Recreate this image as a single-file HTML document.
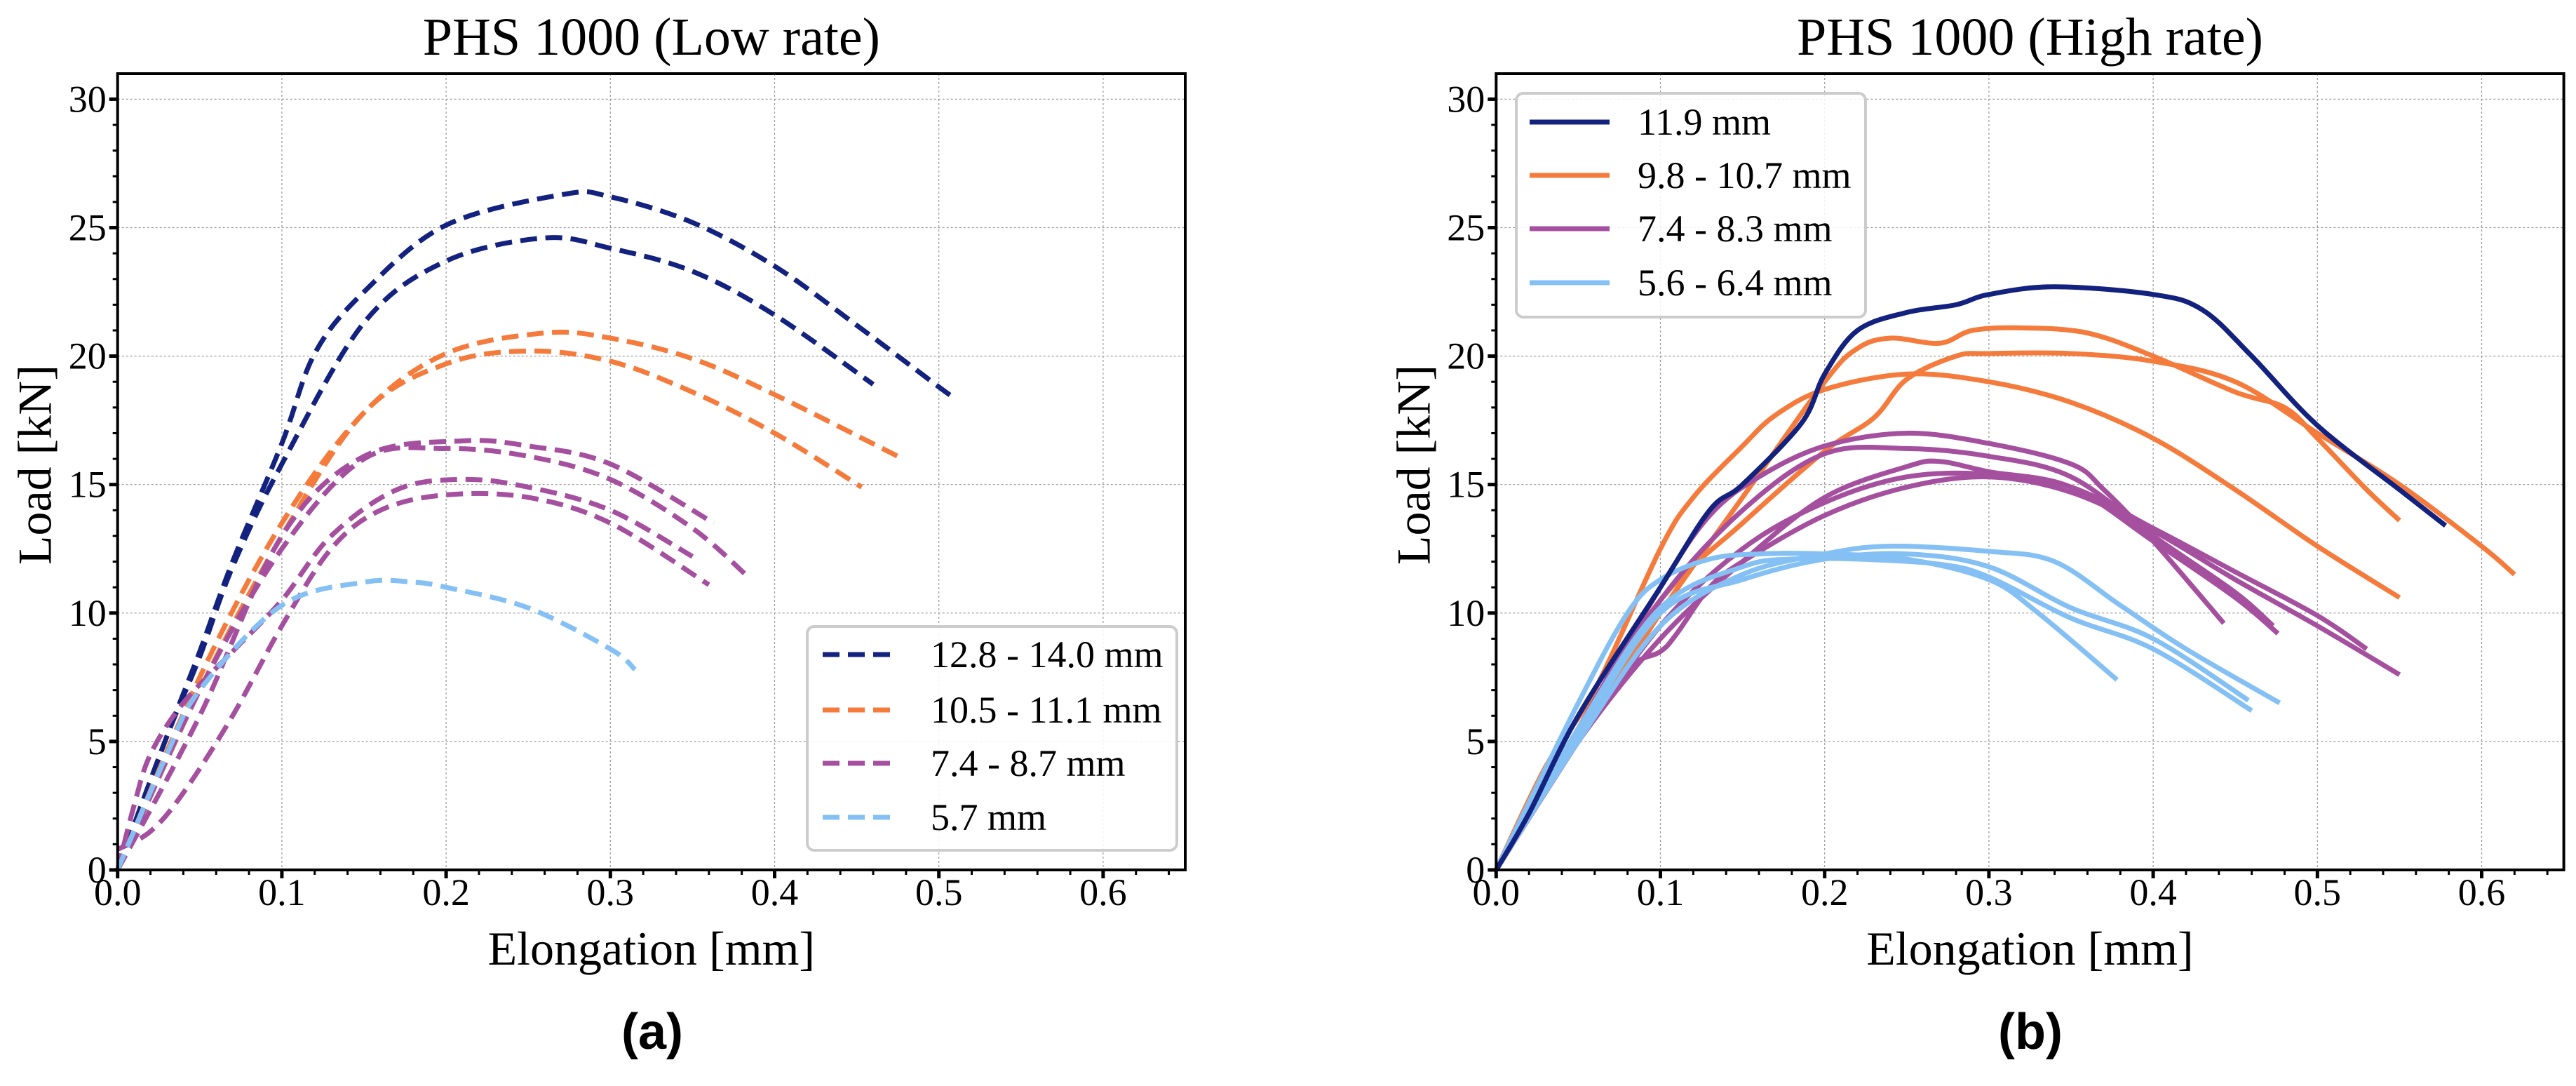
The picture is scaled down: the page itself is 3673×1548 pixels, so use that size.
<!DOCTYPE html>
<html><head><meta charset="utf-8"><style>
html,body{margin:0;padding:0;background:#fff}
svg{display:block}
text{font-family:"Liberation Serif","DejaVu Serif",serif;fill:#000}
</style></head><body>
<svg id="fig" width="3673" height="1548" viewBox="0 0 3673 1548" xmlns="http://www.w3.org/2000/svg">
<g id="pa"></g>
<g id="pb"></g>
<text x="930" y="1495" text-anchor="middle" font-size="72" font-weight="bold" style="font-family:'Liberation Sans',sans-serif">(a)</text>
<text x="2895" y="1495" text-anchor="middle" font-size="72" font-weight="bold" style="font-family:'Liberation Sans',sans-serif">(b)</text>
</svg>
<script>
const xTicks = [0,0.1,0.2,0.3,0.4,0.5,0.6];
const xTickLabels = ["0.0","0.1","0.2","0.3","0.4","0.5","0.6"];
const yTicks = [0,5,10,15,20,25,30];
const yTickLabels = ["0","5","10","15","20","25","30"];
// Low rate series
const lowNavy1X = [0,0.03,0.05,0.07,0.1,0.12,0.15,0.2,0.272,0.3,0.35,0.4,0.45,0.5,0.51];
const lowNavy1Y = [0,5.2,8.5,12,16.6,20.1,22.5,25.1,26.3,26.2,25.2,23.5,21.2,18.8,18.35];
const lowNavy2X = [0,0.03,0.05,0.07,0.1,0.15,0.2,0.26,0.3,0.35,0.4,0.46];
const lowNavy2Y = [0,5.2,8.3,11.8,15.8,21.3,23.7,24.6,24.2,23.3,21.6,18.9];
const lowOrange1X = [0,0.05,0.1,0.15,0.2,0.26,0.3,0.35,0.4,0.475];
const lowOrange1Y = [0,7.5,13.5,17.8,20.1,20.9,20.7,19.9,18.5,16.1];
const lowOrange2X = [0,0.05,0.1,0.15,0.2,0.25,0.3,0.35,0.4,0.453];
const lowOrange2Y = [0,7,13,17.8,19.7,20.2,19.8,18.6,17.0,14.9];
const lowPurple1X = [0,0.05,0.1,0.15,0.21,0.25,0.3,0.363];
const lowPurple1Y = [0,6,13,16.1,16.7,16.5,15.8,13.5];
const lowPurple2X = [0,0.05,0.1,0.15,0.2,0.25,0.3,0.35,0.384];
const lowPurple2Y = [0,7,12.5,16,16.4,16.1,15.2,13.3,11.4];
const lowPurple3X = [0,0.01,0.02,0.04,0.07,0.1,0.13,0.17,0.21,0.25,0.3,0.35];
const lowPurple3Y = [0,2.5,4.5,6.5,8.5,10.5,13,14.8,15.2,14.9,14,12.2];
const lowPurple4X = [0,0.02,0.04,0.07,0.1,0.13,0.16,0.2,0.25,0.3,0.36];
const lowPurple4Y = [0.8,1.5,3,6,9.5,12.5,14,14.6,14.5,13.5,11.1];
const lowBlueX = [0,0.03,0.05,0.1,0.15,0.18,0.2,0.25,0.3,0.315];
const lowBlueY = [0,4.5,7,10.3,11.2,11.2,11.0,10.2,8.6,7.8];
// High rate series
const hiNavyX = [0,0.02,0.05,0.1,0.13,0.15,0.186,0.2,0.22,0.25,0.28,0.3,0.34,0.4,0.43,0.46,0.5,0.55,0.578];
const hiNavyY = [0,2.2,6,11,14,15,17.4,19.3,21,21.7,22,22.4,22.7,22.4,21.8,20,17.3,14.8,13.4];
const hiOrangeAX = [0,0.03,0.05,0.1,0.15,0.2,0.22,0.24,0.27,0.29,0.32,0.36,0.4,0.45,0.48,0.5,0.53,0.55];
const hiOrangeAY = [0,3.5,5,10,14.5,19,20.3,20.7,20.5,21,21.1,20.9,20,18.6,18,16.8,14.8,13.6];
const hiOrangeBX = [0,0.05,0.1,0.15,0.2,0.23,0.25,0.28,0.3,0.35,0.4,0.45,0.5,0.55,0.6,0.62];
const hiOrangeBY = [0,5.5,10.5,13.5,16.3,17.6,19.1,20,20.1,20.1,19.8,19,17,15,12.6,11.5];
const hiOrangeCX = [0,0.03,0.06,0.1,0.12,0.15,0.17,0.2,0.25,0.3,0.35,0.4,0.45,0.5,0.55];
const hiOrangeCY = [0,4,7,12.5,14.5,16.5,17.7,18.7,19.3,19,18.2,16.8,14.8,12.6,10.6];
const hiPurple1X = [0,0.05,0.1,0.13,0.16,0.2,0.25,0.3,0.35,0.37,0.4,0.443];
const hiPurple1Y = [0,5.5,11,13.8,15.3,16.5,17,16.6,15.8,14.8,12.8,9.6];
const hiPurple2X = [0,0.05,0.1,0.15,0.2,0.25,0.3,0.35,0.4,0.45,0.473];
const hiPurple2Y = [0,5.5,10.5,14,16.2,16.4,16.1,15.3,13,10.8,9.5];
const hiPurple3X = [0,0.05,0.1,0.15,0.2,0.25,0.27,0.3,0.35,0.4,0.45,0.476];
const hiPurple3Y = [0,5,9,12,14.5,15.7,15.9,15.5,14.9,12.8,10.6,9.2];
const hiPurple4X = [0,0.05,0.1,0.15,0.2,0.25,0.3,0.35,0.4,0.45,0.5,0.53];
const hiPurple4Y = [0,5,9.5,12.5,14.3,15.3,15.4,14.9,13.3,11.6,9.9,8.6];
const hiPurple5X = [0,0.05,0.08,0.1,0.11,0.13,0.15,0.2,0.25,0.3,0.35,0.4,0.45,0.5,0.55];
const hiPurple5Y = [0,5,7.8,8.5,9.2,11,12,13.8,14.9,15.3,14.7,13.2,11.3,9.5,7.6];
const hiBlue1X = [0,0.05,0.08,0.1,0.13,0.16,0.2,0.25,0.3,0.33,0.378];
const hiBlue1Y = [0,6.5,10,11.3,12.1,12.3,12.3,12.1,11.3,10,7.4];
const hiBlue2X = [0,0.05,0.1,0.15,0.2,0.24,0.3,0.34,0.38,0.42,0.477];
const hiBlue2Y = [0,5,9.5,11.5,12.3,12.6,12.4,12,10.3,8.6,6.5];
const hiBlue3X = [0,0.05,0.1,0.15,0.18,0.22,0.27,0.3,0.35,0.4,0.46];
const hiBlue3Y = [0,5.5,10.2,11.8,12.1,12.1,11.9,11.4,9.8,8.6,6.2];
const hiBlue4X = [0,0.05,0.1,0.15,0.2,0.25,0.3,0.35,0.4,0.458];
const hiBlue4Y = [0,5.2,10,11.3,12.1,12.3,11.8,10.2,9,6.6];
const lowLegend = ["12.8 - 14.0 mm","10.5 - 11.1 mm","7.4 - 8.7 mm","5.7 mm"];
const hiLegend = ["11.9 mm","9.8 - 10.7 mm","7.4 - 8.3 mm","5.6 - 6.4 mm"];

const NAVY="#13217f", ORANGE="#f47b3c", PURPLE="#a5509f", BLUE="#84c0f4";
const NS="http://www.w3.org/2000/svg";
function mk(tag, attrs, parent){const e=document.createElementNS(NS,tag);for(const k in attrs)e.setAttribute(k,attrs[k]);parent.appendChild(e);return e;}

function drawChart(g, x0, title, series, legend, legendBox, dashed, prefix){
  const x1 = x0 + 0.65*2342, yTop=105, yBot=1240;
  const sx = v => x0 + v*2342;
  const sy = v => yBot - v*36.62;
  xTicks.forEach(t=>{const l=mk('line',{x1:sx(t),x2:sx(t),y1:yTop,y2:yBot,stroke:'#999','stroke-width':1.2,'stroke-dasharray':'3 3'},g);
    
    });
  yTicks.forEach(t=>{const l=mk('line',{x1:x0,x2:x1,y1:sy(t),y2:sy(t),stroke:'#999','stroke-width':1.2,'stroke-dasharray':'3 3'},g);
    
    });
  series.forEach(s=>{
    const pts=s.x.map((v,i)=>[sx(v),sy(s.y[i])]);
    let d='M'+pts[0][0]+','+pts[0][1];
    for(let i=0;i<pts.length-1;i++){
      const p0=pts[Math.max(0,i-1)],p1=pts[i],p2=pts[i+1],p3=pts[Math.min(pts.length-1,i+2)];
      const c1=[p1[0]+(p2[0]-p0[0])/6,p1[1]+(p2[1]-p0[1])/6];
      const c2=[p2[0]-(p3[0]-p1[0])/6,p2[1]-(p3[1]-p1[1])/6];
      d+=' C'+c1[0]+','+c1[1]+' '+c2[0]+','+c2[1]+' '+p2[0]+','+p2[1];
    }
    const a={d:d,fill:'none',stroke:s.c,'stroke-width':7};
    if(dashed)a['stroke-dasharray']='24 12';
    const p=mk('path',a,g);
    
    
  });
  const fr=mk('rect',{x:x0,y:yTop,width:x1-x0,height:yBot-yTop,fill:'none',stroke:'#000','stroke-width':4},g);
  
  
  for(let v=0;v<=0.6401;v+=0.02){const maj=Math.abs(v*10-Math.round(v*10))<1e-6;
    const t=mk('line',{x1:sx(v),x2:sx(v),y1:yBot,y2:yBot+(maj?12:7),stroke:'#000','stroke-width':maj?5:3},g);
    
    }
  for(let v=0;v<=30;v+=1){const maj=v%5===0;
    const t=mk('line',{x1:x0,x2:x0-(maj?12:7),y1:sy(v),y2:sy(v),stroke:'#000','stroke-width':maj?5:3},g);
    
    }
  xTicks.forEach((t,i)=>{const e=mk('text',{x:sx(t),y:1290,'text-anchor':'middle','font-size':54},g);e.textContent=xTickLabels[i];
    
    });
  yTicks.forEach((t,i)=>{const e=mk('text',{x:x0-16,y:sy(t)+18,'text-anchor':'end','font-size':54},g);e.textContent=yTickLabels[i];
    
    });
  const tt=mk('text',{x:(x0+x1)/2,y:78,'text-anchor':'middle','font-size':76},g);tt.textContent=title;
  
  
  const xl=mk('text',{x:(x0+x1)/2,y:1375,'text-anchor':'middle','font-size':68},g);xl.textContent='Elongation [mm]';
  
  
  const yl=mk('text',{x:0,y:0,'text-anchor':'middle','font-size':68,transform:'translate('+(x0-95)+','+((yTop+yBot)/2-10)+') rotate(-90)'},g);yl.textContent='Load [kN]';
  
  
  const L=legendBox;
  const lb=mk('rect',{x:L.x,y:L.y,width:L.w,height:L.h,rx:10,fill:'#fff','fill-opacity':0.85,stroke:'#ccc','stroke-width':4},g);
  
  
  const cols=[NAVY,ORANGE,PURPLE,BLUE];
  legend.forEach((s,i)=>{const yy=L.ey[i];
    const a={x1:L.lx1,x2:L.lx2,y1:yy,y2:yy,stroke:cols[i],'stroke-width':7};
    if(dashed)a['stroke-dasharray']='24 12';
    const ln=mk('line',a,g);
    
    
    const tx=mk('text',{x:L.tx,y:yy+18,'font-size':54},g);tx.textContent=s;
    
    });
}
drawChart(document.getElementById('pa'),167.7,'PHS 1000 (Low rate)',[
 {x:lowNavy1X,y:lowNavy1Y,c:NAVY},{x:lowNavy2X,y:lowNavy2Y,c:NAVY},
 {x:lowOrange1X,y:lowOrange1Y,c:ORANGE},{x:lowOrange2X,y:lowOrange2Y,c:ORANGE},
 {x:lowPurple1X,y:lowPurple1Y,c:PURPLE},{x:lowPurple2X,y:lowPurple2Y,c:PURPLE},
 {x:lowPurple3X,y:lowPurple3Y,c:PURPLE},{x:lowPurple4X,y:lowPurple4Y,c:PURPLE},
 {x:lowBlueX,y:lowBlueY,c:BLUE}],lowLegend,
 {x:1151,y:893,w:527,h:319,lx1:1173,lx2:1281,tx:1327,ey:[933,1012,1088,1165]},true,'low-rate');
drawChart(document.getElementById('pb'),2133.3,'PHS 1000 (High rate)',[
 {x:hiOrangeAX,y:hiOrangeAY,c:ORANGE},{x:hiOrangeBX,y:hiOrangeBY,c:ORANGE},{x:hiOrangeCX,y:hiOrangeCY,c:ORANGE},
 {x:hiPurple1X,y:hiPurple1Y,c:PURPLE},{x:hiPurple2X,y:hiPurple2Y,c:PURPLE},{x:hiPurple3X,y:hiPurple3Y,c:PURPLE},
 {x:hiPurple4X,y:hiPurple4Y,c:PURPLE},{x:hiPurple5X,y:hiPurple5Y,c:PURPLE},
 {x:hiBlue1X,y:hiBlue1Y,c:BLUE},{x:hiBlue2X,y:hiBlue2Y,c:BLUE},{x:hiBlue3X,y:hiBlue3Y,c:BLUE},{x:hiBlue4X,y:hiBlue4Y,c:BLUE},
 {x:hiNavyX,y:hiNavyY,c:NAVY}],hiLegend,
 {x:2162,y:133,w:498,h:319,lx1:2181,lx2:2295,tx:2335,ey:[174,250,326,403]},false,'high-rate');
</script>
</body></html>
